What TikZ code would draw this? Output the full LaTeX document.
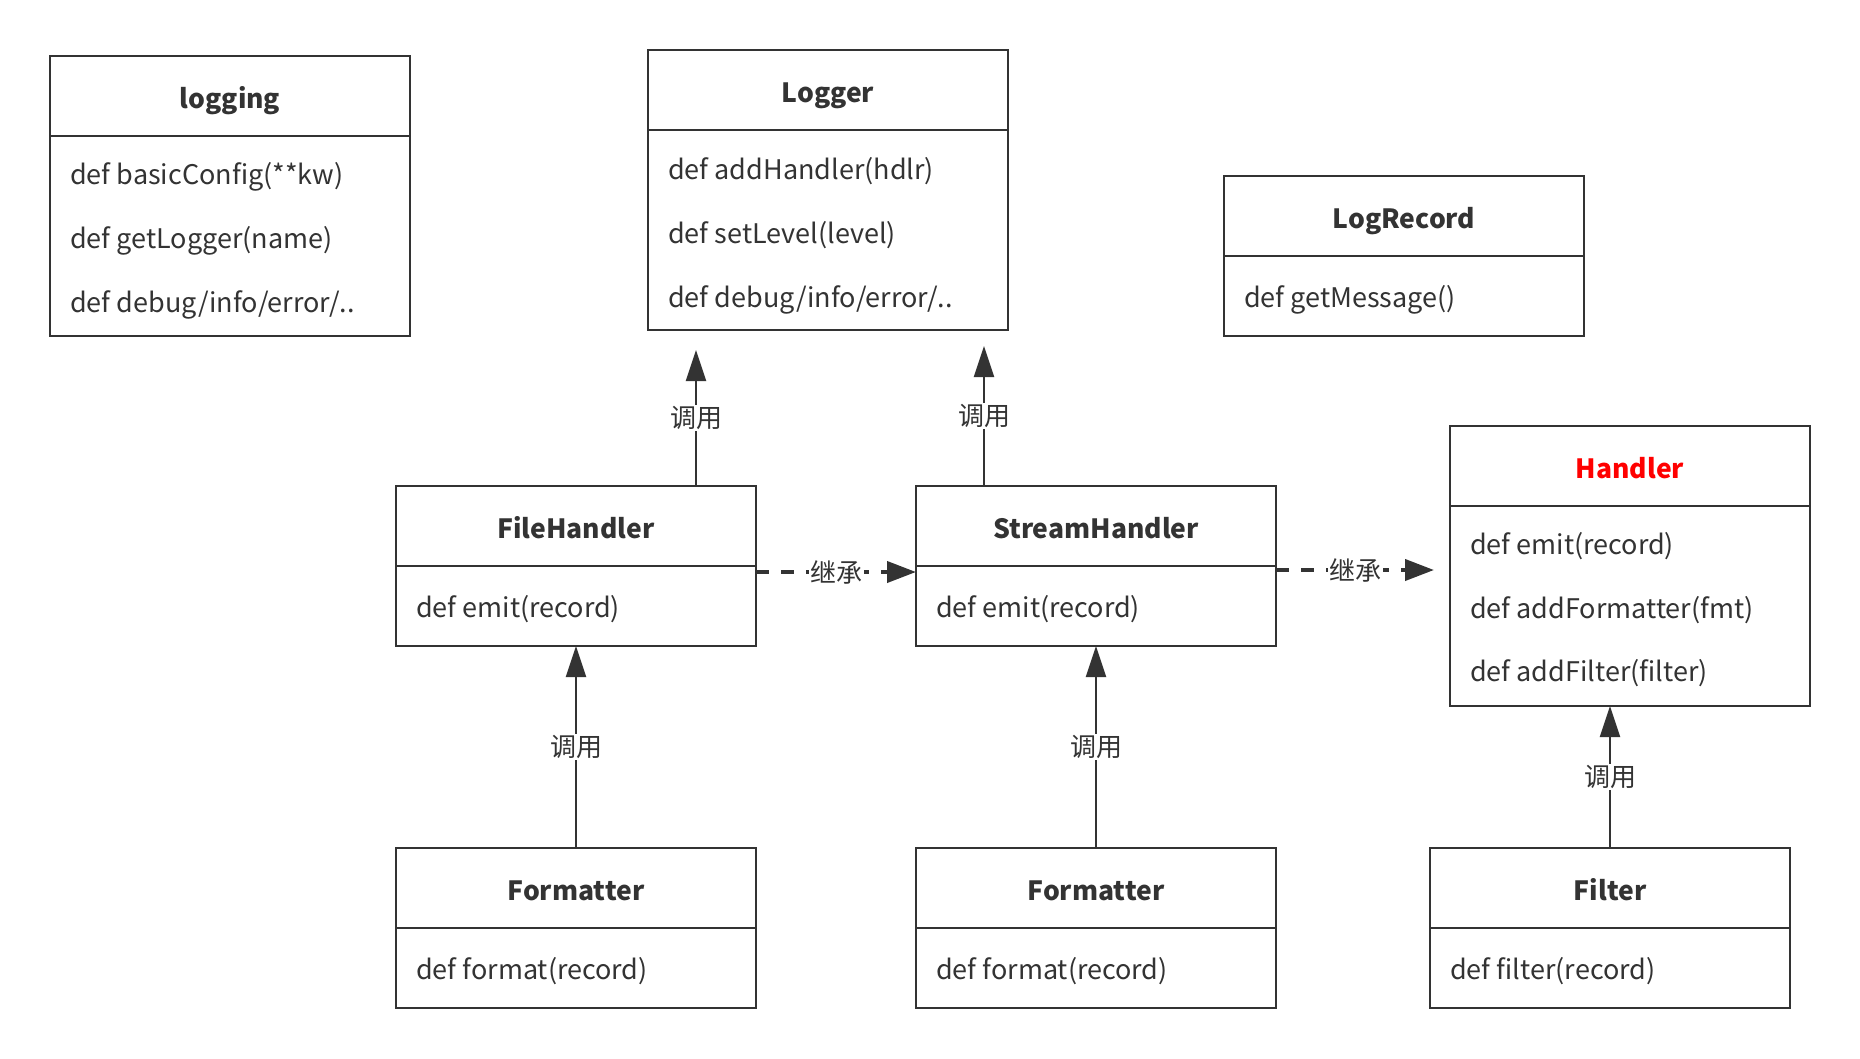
\documentclass[tikz,border=0pt]{standalone}
\usepackage{fontspec}
\setmainfont{Noto Sans CJK SC}
\usetikzlibrary{arrows.meta,calc}
\definecolor{lc}{HTML}{333333}
\definecolor{hred}{HTML}{FF0000}
\begin{document}
\begin{tikzpicture}[x=1pt,y=-1pt,
  hdr/.style={draw=lc,line width=2pt,minimum width=360pt,minimum height=80pt,inner sep=0pt,outer sep=0pt,anchor=north west},
  ttl/.style={anchor=base,inner sep=0pt,text=lc,font=\fontsize{26.5}{32}\selectfont\bfseries},
  itm/.style={anchor=base west,inner sep=0pt,text=lc,font=\fontsize{27}{32}\selectfont},
  call/.style={draw=lc,line width=2pt,-{Triangle[length=31pt,width=20pt]}},
  inh/.style={draw=lc,line width=4pt,dash pattern=on 13pt off 12pt,-{Triangle[length=29pt,width=21pt]}},
  lbl/.style={fill=white,text=lc,inner sep=1.5pt,font=\fontsize{26}{30}\selectfont}
]
\useasboundingbox (0,0) rectangle (1860,1058);

% logging
\node[hdr] (logH) at (50,56) {};
\node[hdr,minimum height=200pt] (logB) at (50,136) {};
\node[ttl] (logT) at (230,108) {logging};
\node[itm] (logI1) at (70,184) {def basicConfig(**kw)};
\node[itm] (logI2) at (70,248) {def getLogger(name)};
\node[itm] (logI3) at (70,312) {def debug/info/error/..};

% Logger
\node[hdr] (lgH) at (648,50) {};
\node[hdr,minimum height=200pt] (lgB) at (648,130) {};
\node[ttl] (lgT) at (828,102) {Logger};
\node[itm] (lgI1) at (668,179) {def addHandler(hdlr)};
\node[itm] (lgI2) at (668,243) {def setLevel(level)};
\node[itm] (lgI3) at (668,307) {def debug/info/error/..};

% LogRecord
\node[hdr] (lrH) at (1224,176) {};
\node[hdr] (lrB) at (1224,256) {};
\node[ttl] (lrT) at (1404,228) {LogRecord};
\node[itm] (lrI1) at (1244,307) {def getMessage()};

% Handler
\node[hdr] (hdH) at (1450,426) {};
\node[hdr,minimum height=200pt] (hdB) at (1450,506) {};
\node[ttl,text=hred] (hdT) at (1630,478) {Handler};
\node[itm] (hdI1) at (1470,554) {def emit(record)};
\node[itm] (hdI2) at (1470,618) {def addFormatter(fmt)};
\node[itm] (hdI3) at (1470,681) {def addFilter(filter)};

% FileHandler
\node[hdr] (fhH) at (396,486) {};
\node[hdr] (fhB) at (396,566) {};
\node[ttl] (fhT) at (576,538) {FileHandler};
\node[itm] (fhI1) at (416,617) {def emit(record)};

% StreamHandler
\node[hdr] (shH) at (916,486) {};
\node[hdr] (shB) at (916,566) {};
\node[ttl] (shT) at (1096,538) {StreamHandler};
\node[itm] (shI1) at (936,617) {def emit(record)};

% Formatter 1
\node[hdr] (fm1H) at (396,848) {};
\node[hdr] (fm1B) at (396,928) {};
\node[ttl] (fm1T) at (576,900) {Formatter};
\node[itm] (fm1I1) at (416,979) {def format(record)};

% Formatter 2
\node[hdr] (fm2H) at (916,848) {};
\node[hdr] (fm2B) at (916,928) {};
\node[ttl] (fm2T) at (1096,900) {Formatter};
\node[itm] (fm2I1) at (936,979) {def format(record)};

% Filter
\node[hdr] (fiH) at (1430,848) {};
\node[hdr] (fiB) at (1430,928) {};
\node[ttl] (fiT) at (1610,900) {Filter};
\node[itm] (fiI1) at (1450,979) {def filter(record)};

% connectors
\draw[call] ($(fhH.north west)+(300,0)$) -- node[lbl]{调用} ($(lgB.south west)+(48,20)$);
\draw[call] ($(shH.north west)+(68,0)$) -- node[lbl]{调用} ($(lgB.south west)+(336,16)$);
\draw[call] (fm1H.north) -- node[lbl]{调用} (fhB.south);
\draw[call] (fm2H.north) -- node[lbl]{调用} (shB.south);
\draw[call] (fiH.north) -- node[lbl]{调用} ($(hdB.south west)+(160,0)$);
\draw[inh] ($(fhB.north east)+(0,6)$) -- node[lbl]{继承} ($(shB.north west)+(0,6)$);
\draw[inh] ($(shB.north east)+(0,4)$) -- node[lbl]{继承} ($(hdB.north west)+(-16,64)$);
\end{tikzpicture}
\end{document}
